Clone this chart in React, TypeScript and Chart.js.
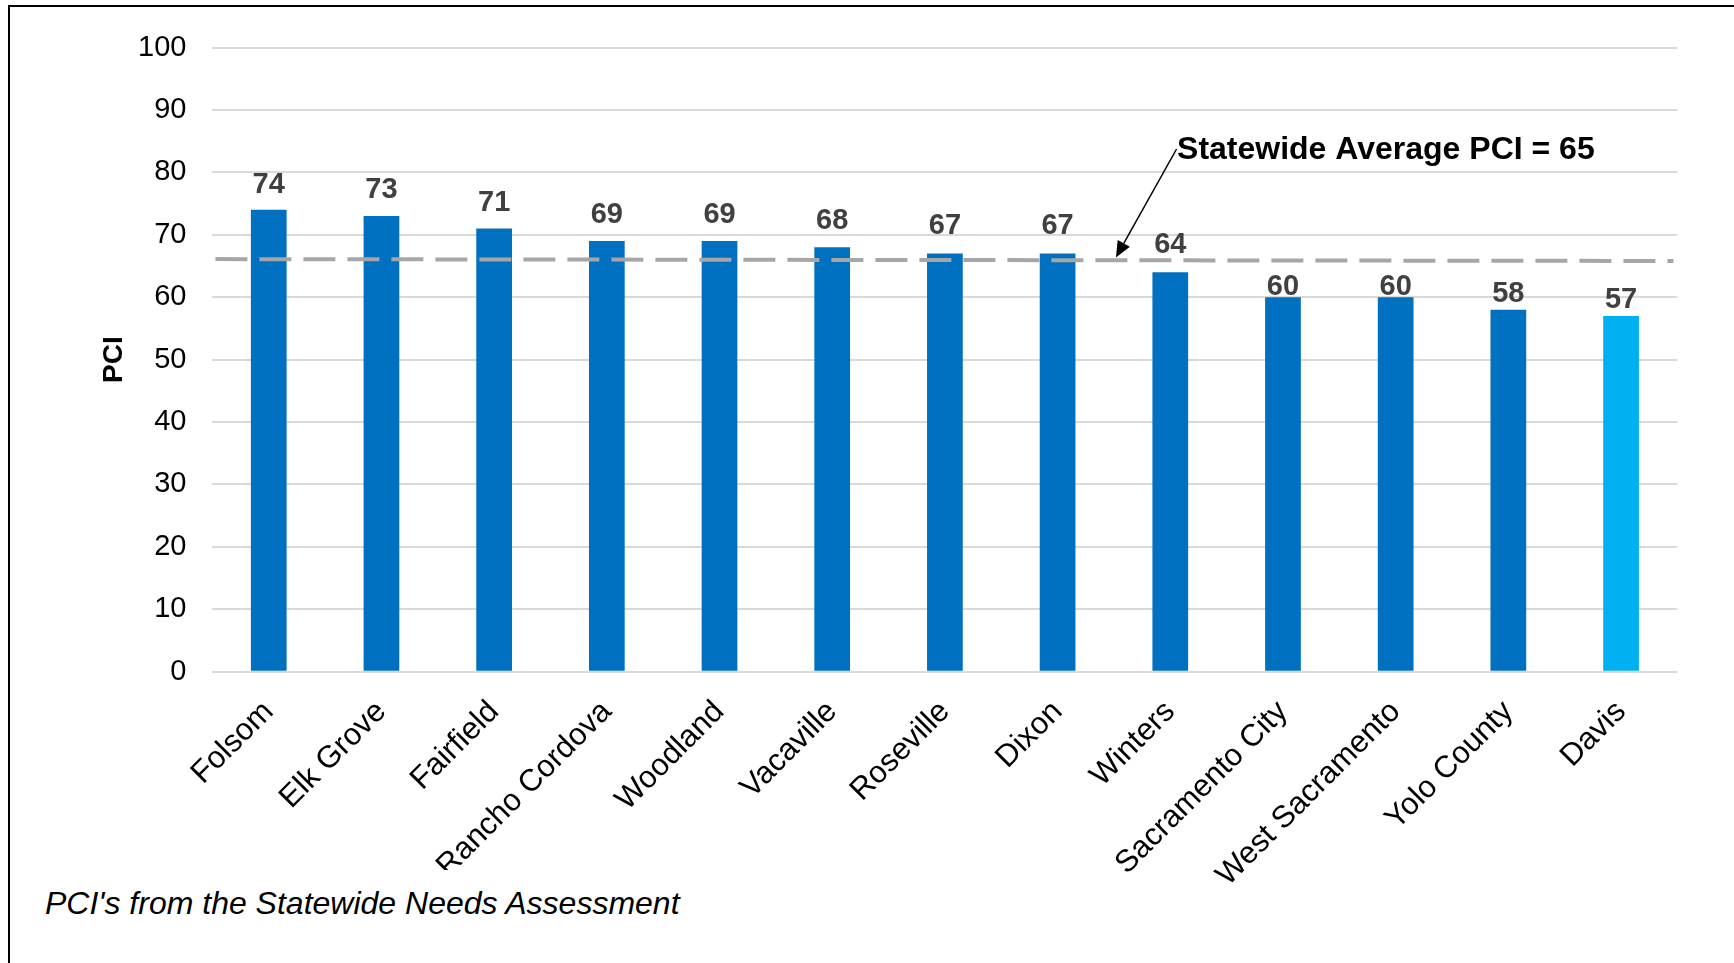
import React, { useEffect, useRef } from "react";
import { Chart, registerables } from "chart.js";

Chart.register(...registerables);

const categories = [
  "Folsom",
  "Elk Grove",
  "Fairfield",
  "Rancho Cordova",
  "Woodland",
  "Vacaville",
  "Roseville",
  "Dixon",
  "Winters",
  "Sacramento City",
  "West Sacramento",
  "Yolo County",
  "Davis",
];
const pciValues = [74, 73, 71, 69, 69, 68, 67, 67, 64, 60, 60, 58, 57];
const barColors = [
  "#0070C0", "#0070C0", "#0070C0", "#0070C0", "#0070C0", "#0070C0", "#0070C0",
  "#0070C0", "#0070C0", "#0070C0", "#0070C0", "#0070C0", "#00B0F0",
];
const yMin = 0;
const yMax = 100;
const yStep = 10;
const yAxisTitle = "PCI";

// gap (px) between each bar top and its value label baseline
const labelGaps = [17, 18, 18, 18, 18, 18, 19, 19, 19, 2, 2, 8, 8];

// statewide average reference line (value at left and right edge of plot)
const averageLineStart = 66.1;
const averageLineEnd = 65.8;
// annotation (category index, value)
const annotationText = "Statewide Average PCI = 65";
const annotationAt = [8.06, 82.2];
const arrowFrom = [8.056, 83.74];
const arrowTo = [7.518, 66.37];

const footnote = "PCI's from the Statewide Needs Assessment";

const FONT = '"Liberation Sans", Arial, sans-serif';

const overlayPlugin = {
  id: "overlay",
  afterDatasetsDraw(chart: any) {
    const { ctx, chartArea, scales } = chart;
    const x = scales.x;
    const y = scales.y;
    ctx.save();

    // dashed average line
    ctx.strokeStyle = "#A6A6A6";
    ctx.lineWidth = 4;
    ctx.setLineDash([32, 12]);
    ctx.lineDashOffset = -3;
    ctx.beginPath();
    ctx.moveTo(chartArea.left, y.getPixelForValue(averageLineStart));
    ctx.lineTo(chartArea.right - 4, y.getPixelForValue(averageLineEnd));
    ctx.stroke();
    ctx.setLineDash([]);

    // data labels
    const meta = chart.getDatasetMeta(0);
    ctx.font = `bold 29px ${FONT}`;
    ctx.fillStyle = "#404040";
    ctx.textAlign = "center";
    ctx.textBaseline = "alphabetic";
    meta.data.forEach((bar: any, i: number) => {
      ctx.fillText(String(pciValues[i]), bar.x, bar.y - labelGaps[i]);
    });

    // annotation text
    ctx.font = `bold 32px ${FONT}`;
    ctx.fillStyle = "#000";
    ctx.textAlign = "left";
    ctx.fillText(
      annotationText,
      x.getPixelForValue(annotationAt[0]),
      y.getPixelForValue(annotationAt[1])
    );

    // arrow
    const x1 = x.getPixelForValue(arrowFrom[0]);
    const y1 = y.getPixelForValue(arrowFrom[1]);
    const x2 = x.getPixelForValue(arrowTo[0]);
    const y2 = y.getPixelForValue(arrowTo[1]);
    const ang = Math.atan2(y2 - y1, x2 - x1);
    const headLen = 16;
    const headW = 7;
    const bx = x2 - headLen * Math.cos(ang);
    const by = y2 - headLen * Math.sin(ang);
    ctx.strokeStyle = "#000";
    ctx.lineWidth = 1.5;
    ctx.beginPath();
    ctx.moveTo(x1, y1);
    ctx.lineTo(bx, by);
    ctx.stroke();
    ctx.fillStyle = "#000";
    ctx.beginPath();
    ctx.moveTo(x2, y2);
    ctx.lineTo(bx + headW * Math.sin(ang), by - headW * Math.cos(ang));
    ctx.lineTo(bx - headW * Math.sin(ang), by + headW * Math.cos(ang));
    ctx.closePath();
    ctx.fill();

    ctx.restore();
  },
};

function PciChart() {
  const canvasRef = useRef<HTMLCanvasElement | null>(null);

  useEffect(() => {
    if (!canvasRef.current) return;
    const chart = new Chart(canvasRef.current, {
      type: "bar",
      data: {
        labels: categories,
        datasets: [
          {
            data: pciValues,
            backgroundColor: barColors,
            borderWidth: 0,
            categoryPercentage: 1,
            barPercentage: 0.317,
          },
        ],
      },
      options: {
        animation: false,
        responsive: true,
        maintainAspectRatio: false,
        layout: { padding: { top: 47.5, right: 56.6, left: 0, bottom: 0 } },
        plugins: {
          legend: { display: false },
          tooltip: { enabled: false },
        },
        scales: {
          x: {
            grid: { display: false, drawTicks: false },
            border: { display: false },
            ticks: {
              autoSkip: false,
              minRotation: 45,
              maxRotation: 45,
              padding: 22,
              labelOffset: 0,
              color: "#000",
              font: { family: FONT, size: 31 },
            },
            afterFit: (scale: any) => {
              scale.height = 291.3;
            },
          },
          y: {
            min: yMin,
            max: yMax,
            grid: { color: "#D9D9D9", lineWidth: 2, drawTicks: false },
            border: { display: false },
            ticks: {
              stepSize: yStep,
              padding: 26,
              color: "#000",
              font: { family: FONT, size: 29 },
            },
            title: {
              display: true,
              text: yAxisTitle,
              color: "#000",
              font: { family: FONT, size: 28, weight: "bold" },
              padding: { top: 97, bottom: 0 },
            },
            afterFit: (scale: any) => {
              scale.width = 212.4;
            },
          },
        },
      },
      plugins: [overlayPlugin],
    });
    return () => chart.destroy();
  }, []);

  return (
    <div style={{ position: "absolute", left: 0, top: 0, width: 1734, height: 963 }}>
      <canvas ref={canvasRef} />
    </div>
  );
}

export default function App() {
  return (
    <div
      style={{
        position: "fixed",
        left: 0,
        top: 0,
        width: 1734,
        height: 963,
        overflow: "hidden",
        background: "#fff",
      }}
    >
      <PciChart />
      <div
        style={{
          position: "absolute",
          left: 8,
          top: 5,
          width: 2000,
          height: 2000,
          borderLeft: "2px solid #000",
          borderTop: "2px solid #000",
          pointerEvents: "none",
        }}
      />
      <div
        style={{
          position: "absolute",
          left: 40,
          top: 870,
          width: 660,
          height: 80,
          paddingTop: 12,
          paddingLeft: 5,
          background: "#fff",
          fontFamily: FONT,
          fontStyle: "italic",
          fontSize: 32,
          lineHeight: "42px",
          color: "#000",
          whiteSpace: "nowrap",
        }}
      >
        {footnote}
      </div>
    </div>
  );
}
